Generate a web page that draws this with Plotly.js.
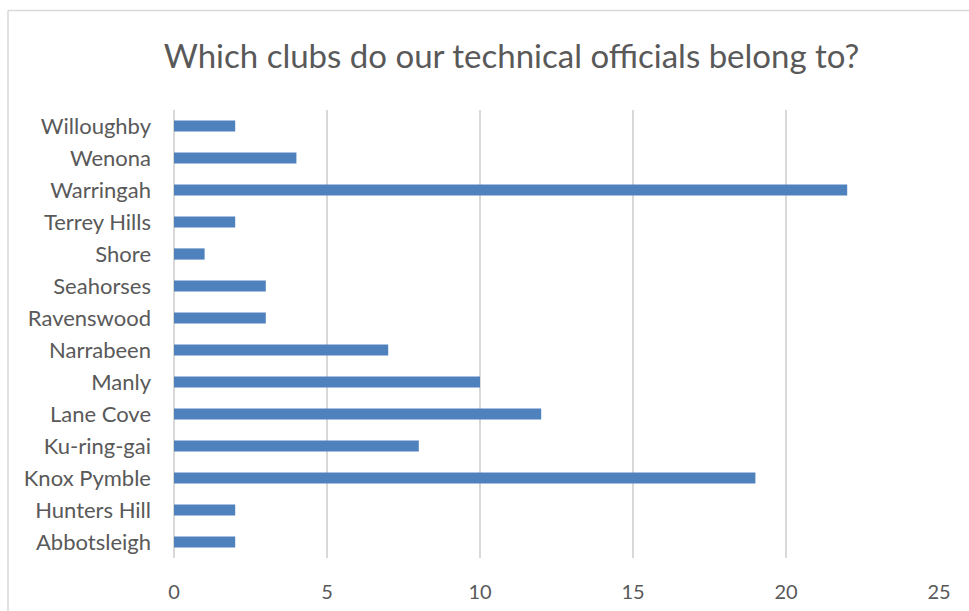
<!DOCTYPE html>
<html>
<head>
<meta charset="utf-8">
<script src="https://cdn.plot.ly/plotly-3.0.1.min.js"></script>
<style>html,body{margin:0;padding:0;background:#fff;}#chart{width:969px;height:611px;}</style>
</head>
<body>
<div id="chart"></div>
<script>
var clubs = ["Abbotsleigh","Hunters Hill","Knox Pymble","Ku-ring-gai","Lane Cove","Manly","Narrabeen","Ravenswood","Seahorses","Shore","Terrey Hills","Warringah","Wenona","Willoughby"];
var officials = [2,2,19,8,12,10,7,3,3,1,2,22,4,2];
var xTicks = [0,5,10,15,20,25];

var font = "Lato, 'Open Sans', sans-serif";
var trace = {
  type: "bar",
  orientation: "h",
  y: clubs,
  x: officials,
  marker: {color: "#4F81BD", line: {width: 0}},
  hoverinfo: "x+y"
};
var layout = {
  width: 969, height: 611,
  margin: {l: 174, r: 30, t: 110, b: 53, pad: 0},
  paper_bgcolor: "#ffffff",
  plot_bgcolor: "#ffffff",
  font: {family: font, color: "#595959", size: 21},
  title: {text: "Which clubs do our technical officials belong to?", font: {family: font, size: 33, color: "#595959"}, xref: "paper", x: (511.5-174)/765, xanchor: "center", y: 0.907, yanchor: "middle"},
  bargap: 0.65,
  showlegend: false,
  xaxis: {
    range: [0, 25], tickvals: xTicks, ticktext: xTicks.map(String),
    showgrid: true, gridcolor: "#D9D9D9", gridwidth: 1.5,
    zeroline: true, zerolinecolor: "#D9D9D9", zerolinewidth: 1.5,
    showline: false, ticks: "",
    tickfont: {size: 20, color: "#595959"}, ticklabelstandoff: 20, fixedrange: true
  },
  yaxis: {
    type: "category", categoryorder: "array", categoryarray: clubs,
    showgrid: false, zeroline: false, showline: false, ticks: "",
    tickfont: {size: 22, color: "#595959"}, ticklabelstandoff: 22, fixedrange: true
  },
  shapes: [
    {type: "line", xref: "paper", yref: "paper", x0: (8-174)/765, x1: 1.1, y0: (558-10.5)/448, y1: (558-10.5)/448, line: {color: "#D9D9D9", width: 1.5}},
    {type: "line", xref: "paper", yref: "paper", x0: (8-174)/765, x1: (8-174)/765, y0: (558-10.5)/448, y1: -0.2, line: {color: "#D9D9D9", width: 1.5}}
  ]
};
Plotly.newPlot("chart", [trace], layout, {displayModeBar: false, staticPlot: true});
</script>
</body>
</html>
